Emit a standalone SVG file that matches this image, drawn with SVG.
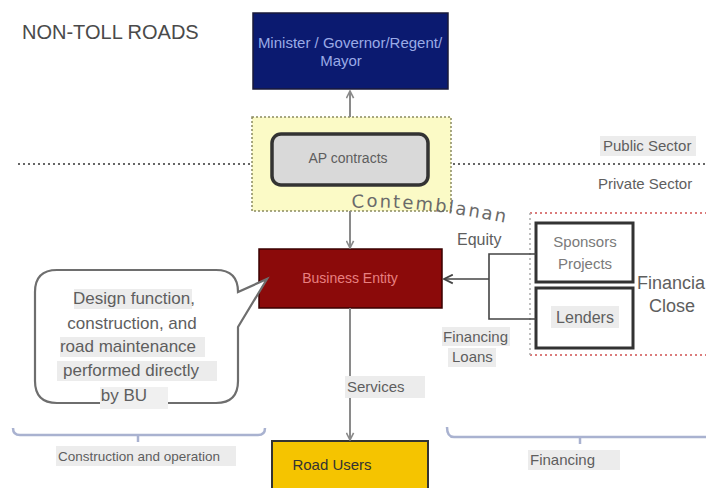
<svg xmlns="http://www.w3.org/2000/svg" width="706" height="488" viewBox="0 0 706 488">
<defs>
<style>
.t{font-family:"Liberation Sans",Arial,sans-serif;fill:#5e5e5e}
.hl{fill:#ececec}
.conn{stroke:#8a8a8a;stroke-width:2;fill:none}
.fin{stroke:#444;stroke-width:1.6;fill:none}
.br{stroke:#a9b2d0;stroke-width:2.5;fill:none}
</style>
<marker id="ah" viewBox="0 0 10 10" refX="9" refY="5" markerWidth="9" markerHeight="9" markerUnits="userSpaceOnUse" orient="auto">
<path d="M1,1 L9,5 L1,9" fill="none" stroke="#8a8a8a" stroke-width="1.8"/>
</marker>
<marker id="ahd" viewBox="0 0 10 10" refX="9" refY="5" markerWidth="11" markerHeight="11" markerUnits="userSpaceOnUse" orient="auto">
<path d="M1,1 L9,5 L1,9" fill="none" stroke="#444" stroke-width="1.6"/>
</marker>
<path id="cpath" d="M352,208 Q420,204 525,227" fill="none" stroke="none"/>
</defs>
<rect width="706" height="488" fill="#ffffff"/>

<text class="t" x="22" y="39" font-size="20" style="fill:#4a4a4a">NON-TOLL ROADS</text>

<!-- sector divider -->
<line x1="18" y1="164" x2="706" y2="164" stroke="#666" stroke-width="2" stroke-dasharray="2,3"/>
<rect class="hl" x="600" y="136" width="96" height="20"/>
<text class="t" x="603" y="151" font-size="15">Public Sector</text>
<text class="t" x="598" y="189" font-size="15">Private Sector</text>

<!-- financial close region -->
<g id="financial-close">
<line x1="530" y1="213" x2="706" y2="213" stroke="#d05050" stroke-width="1.5" stroke-dasharray="2,3"/>
<line x1="530" y1="355" x2="706" y2="355" stroke="#d05050" stroke-width="1.5" stroke-dasharray="2,3"/>
<line x1="530" y1="213" x2="530" y2="355" stroke="#aaa" stroke-width="1.5" stroke-dasharray="2,3"/>
<text class="t" x="637" y="289" font-size="18">Financia</text>
<text class="t" x="649" y="312" font-size="18">Close</text>
</g>

<g id="minister">
<rect x="253" y="13" width="195" height="76" fill="#0b1a70" stroke="#1a1a3a" stroke-width="1.5"/>
<text x="350" y="48" font-size="15" text-anchor="middle" font-family="Liberation Sans,Arial,sans-serif" fill="#9aaae6">Minister / Governor/Regent/</text>
<text x="341" y="66" font-size="15" text-anchor="middle" font-family="Liberation Sans,Arial,sans-serif" fill="#9aaae6">Mayor</text>
</g>

<g id="ap-contracts">
<rect x="252" y="117" width="199" height="94" fill="#fbfac6" stroke="#8a8a60" stroke-width="1.5" stroke-dasharray="2,2"/>
<rect x="272" y="134" width="156" height="51" rx="9" fill="#d9d9d9" stroke="#333" stroke-width="3.5"/>
<text class="t" x="348" y="163" font-size="14" text-anchor="middle">AP contracts</text>
</g>

<text font-family="DejaVu Sans,sans-serif" font-size="18" fill="#6a6a6a" letter-spacing="2"><textPath href="#cpath">Contemblanan</textPath></text>

<g id="business-entity">
<rect x="259" y="249" width="183" height="59" fill="#8b0a0a" stroke="#3a0000" stroke-width="1.5"/>
<text x="350" y="283" font-size="14" text-anchor="middle" font-family="Liberation Sans,Arial,sans-serif" fill="#e88080">Business Entity</text>
</g>

<g id="callout">
<path d="M57,270 H216 Q238,270 238,292 L267,279 L238,327 V381 Q238,403 216,403 H57 Q35,403 35,381 V292 Q35,270 57,270 Z" fill="#ffffff" stroke="#6e6e6e" stroke-width="2.2"/>
<rect class="hl" x="74" y="289" width="118" height="20"/>
<rect class="hl" x="60" y="337" width="145" height="20"/>
<rect class="hl" x="57" y="361" width="160" height="20"/>
<rect x="100" y="387" width="68" height="22" fill="#f0f0f0"/>
<g class="t" font-size="17" text-anchor="middle">
<text x="134" y="304">Design function,</text>
<text x="132" y="329">construction, and</text>
<text x="128" y="352">road maintenance</text>
<text x="131" y="376">performed directly</text>
<text x="124" y="401">by BU</text>
</g>
</g>

<g id="sponsors">
<rect x="536" y="223" width="97" height="59" fill="#ffffff" stroke="#333" stroke-width="3"/>
<text class="t" x="585" y="247" font-size="15" text-anchor="middle" style="fill:#7a7a7a">Sponsors</text>
<text class="t" x="585" y="269" font-size="15" text-anchor="middle" style="fill:#7a7a7a">Projects</text>
</g>

<g id="lenders">
<rect x="536" y="288" width="97" height="60" fill="#ffffff" stroke="#333" stroke-width="3"/>
<rect class="hl" x="551" y="306" width="68" height="22"/>
<text class="t" x="585" y="323" font-size="16" text-anchor="middle">Lenders</text>
</g>

<g id="road-users">
<rect x="272" y="441" width="156" height="56" fill="#f5c400" stroke="#333" stroke-width="2"/>
<text x="332" y="470" font-size="15" text-anchor="middle" font-family="Liberation Sans,Arial,sans-serif" fill="#333">Road Users</text>
</g>

<g id="connectors">
<line class="conn" x1="350" y1="117" x2="350" y2="91" marker-end="url(#ah)"/>
<line class="conn" x1="350" y1="211" x2="350" y2="248" marker-end="url(#ah)"/>
<line class="conn" x1="350" y1="308" x2="350" y2="440" marker-end="url(#ah)"/>
<path class="fin" d="M536,254 H489 V319 H536"/>
<line class="fin" x1="489" y1="279" x2="444" y2="279" marker-end="url(#ahd)"/>
<rect class="hl" x="345" y="376" width="80" height="22"/>
<text class="t" x="347" y="392" font-size="15">Services</text>
<text class="t" x="457" y="245" font-size="16">Equity</text>
<rect class="hl" x="442" y="327" width="68" height="19"/>
<rect class="hl" x="448" y="348" width="48" height="19"/>
<text class="t" x="443" y="342" font-size="15">Financing</text>
<text class="t" x="452" y="362" font-size="15">Loans</text>
</g>

<g id="brackets">
<path class="br" d="M13,428 Q13,435 20,435 H258 Q265,435 265,428"/>
<line class="br" x1="138" y1="435" x2="138" y2="442" stroke-width="2"/>
<rect class="hl" x="56" y="446" width="180" height="20"/>
<text class="t" x="58" y="461" font-size="13.5">Construction and operation</text>
<path class="br" d="M447,427 Q447,437 454,437 H706"/>
<line class="br" x1="580" y1="437" x2="580" y2="444" stroke-width="2"/>
<rect class="hl" x="528" y="450" width="92" height="20"/>
<text class="t" x="530" y="465" font-size="15">Financing</text>
</g>
</svg>
